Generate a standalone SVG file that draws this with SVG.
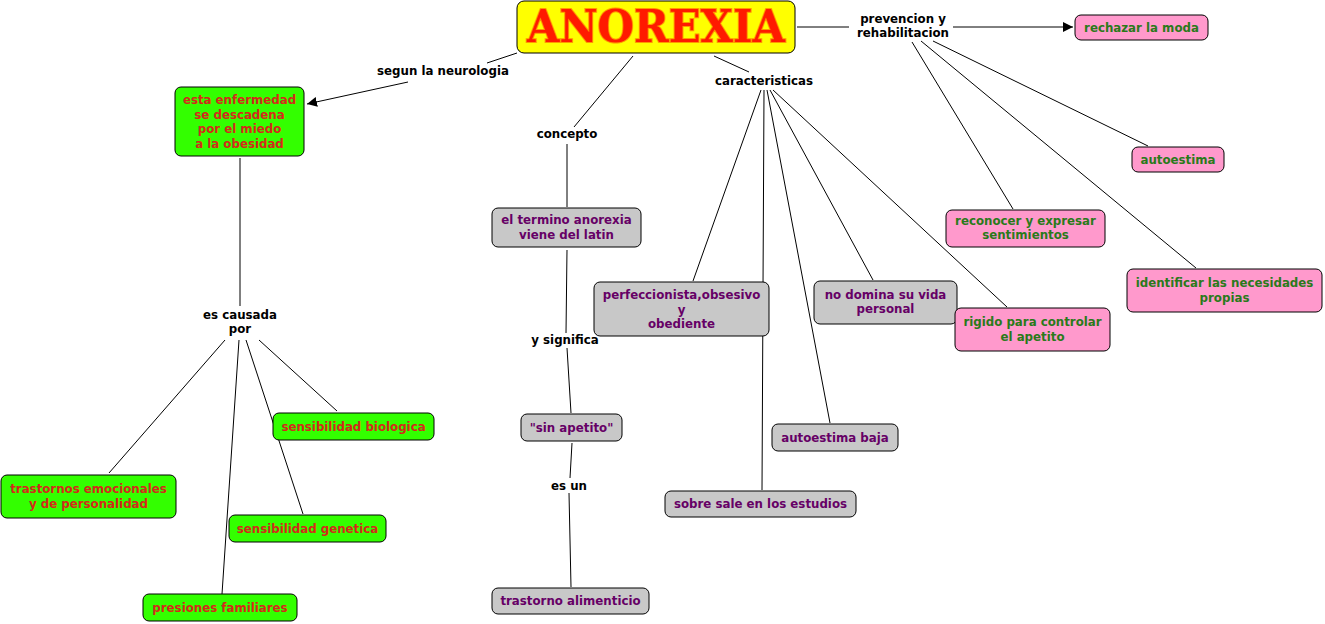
<svg xmlns="http://www.w3.org/2000/svg" width="1325" height="624" viewBox="0 0 1325 624">
<style>
text{font-family:"DejaVu Sans","Verdana",sans-serif;font-weight:bold;font-size:11.8px;text-anchor:middle}
.c line{stroke:#000;stroke-width:1}
.g rect{fill:#33ff00;stroke:#000;stroke-width:1}
.g text{fill:#d42a1a}
.y rect{fill:#c8c8c8;stroke:#000;stroke-width:1}
.y text{fill:#660066}
.p rect{fill:#ff99cc;stroke:#000;stroke-width:1}
.p text{fill:#2a7a1a}
.l text{fill:#000}
</style>
<defs>
<marker id="arr" viewBox="0 0 10 10" refX="10" refY="5" markerWidth="10" markerHeight="10" markerUnits="userSpaceOnUse" orient="auto">
<path d="M0,0 L10,5 L0,10 z" fill="#000"/>
</marker>
</defs>
<rect width="1325" height="624" fill="#fff"/>
<g id="connectors" class="c">
<line x1="517" y1="53" x2="487" y2="63"/>
<line x1="408" y1="82" x2="307" y2="104" marker-end="url(#arr)"/>
<line x1="240" y1="158" x2="240" y2="306"/>
<line x1="225" y1="340" x2="109" y2="473"/>
<line x1="239" y1="340" x2="222" y2="594"/>
<line x1="246" y1="340" x2="303" y2="514"/>
<line x1="259" y1="340" x2="337" y2="411"/>
<line x1="633" y1="56" x2="574" y2="127"/>
<line x1="567" y1="144" x2="567" y2="207"/>
<line x1="567" y1="250" x2="566" y2="333"/>
<line x1="567" y1="348" x2="571" y2="413"/>
<line x1="572" y1="443" x2="570" y2="478"/>
<line x1="569" y1="493" x2="571" y2="587"/>
<line x1="714" y1="56" x2="749" y2="72"/>
<line x1="761" y1="90" x2="693" y2="281"/>
<line x1="764" y1="90" x2="762" y2="490"/>
<line x1="767" y1="90" x2="830" y2="423"/>
<line x1="770" y1="90" x2="873" y2="280"/>
<line x1="773" y1="90" x2="1007" y2="307"/>
<line x1="797" y1="27" x2="849" y2="27"/>
<line x1="953" y1="27" x2="1073" y2="27" marker-end="url(#arr)"/>
<line x1="912" y1="42" x2="1013" y2="209"/>
<line x1="921" y1="41" x2="1196" y2="268"/>
<line x1="933" y1="41" x2="1148" y2="146"/>
</g>
<g id="title">
<rect x="517" y="1" width="278" height="52" rx="7" fill="#ffff00" stroke="#000" stroke-width="1"/>
<text x="656" y="42" style="font-family:'DejaVu Serif',serif;font-size:44px;font-weight:bold" fill="#ff1a00" stroke="#ff9900" stroke-width="2" paint-order="stroke" textLength="258" lengthAdjust="spacingAndGlyphs">ANOREXIA</text>
</g>
<g id="lbl-segun" class="l"><text x="443" y="75">segun la neurologia</text></g>
<g id="lbl-concepto" class="l"><text x="567" y="138">concepto</text></g>
<g id="lbl-caracteristicas" class="l"><text x="764" y="85">caracteristicas</text></g>
<g id="lbl-prevencion" class="l"><text x="903" y="23">prevencion y</text><text x="903" y="37">rehabilitacion</text></g>
<g id="lbl-causada" class="l"><text x="240" y="319">es causada</text><text x="240" y="333">por</text></g>
<g id="lbl-significa" class="l"><text x="565" y="344">y significa</text></g>
<g id="lbl-esun" class="l"><text x="569" y="490">es un</text></g>

<g id="n-enfermedad" class="g"><rect x="175" y="87" width="129" height="69" rx="6"/>
<text x="239.5" y="104">esta enfermedad</text><text x="239.5" y="118.5">se descadena</text><text x="239.5" y="133">por el miedo</text><text x="239.5" y="147.5">a la obesidad</text></g>
<g id="n-biologica" class="g"><rect x="273" y="413" width="161" height="27" rx="6"/><text x="353.5" y="430.5">sensibilidad biologica</text></g>
<g id="n-trastornos" class="g"><rect x="1" y="475" width="175" height="43" rx="6"/><text x="88.5" y="493">trastornos emocionales</text><text x="88.5" y="507.5">y de personalidad</text></g>
<g id="n-genetica" class="g"><rect x="229" y="515" width="157" height="27" rx="6"/><text x="307.5" y="532.5">sensibilidad genetica</text></g>
<g id="n-presiones" class="g"><rect x="143" y="594" width="154" height="27" rx="6"/><text x="220" y="611.5">presiones familiares</text></g>

<g id="n-termino" class="y"><rect x="492" y="208" width="149" height="39" rx="6"/><text x="566.5" y="224">el termino anorexia</text><text x="566.5" y="239">viene del latin</text></g>
<g id="n-perfeccionista" class="y"><rect x="594" y="282" width="175" height="54" rx="6"/><text x="681.5" y="299">perfeccionista,obsesivo</text><text x="681.5" y="313.5">y</text><text x="681.5" y="328">obediente</text></g>
<g id="n-nodomina" class="y"><rect x="814" y="281" width="143" height="43" rx="6"/><text x="885.5" y="298.5">no domina su vida</text><text x="885.5" y="313">personal</text></g>
<g id="n-sinapetito" class="y"><rect x="521" y="414" width="101" height="27" rx="6"/><text x="571.5" y="431.5">"sin apetito"</text></g>
<g id="n-autoestimabaja" class="y"><rect x="772" y="424" width="126" height="27" rx="6"/><text x="835" y="441.5">autoestima baja</text></g>
<g id="n-sobresale" class="y"><rect x="665" y="491" width="191" height="26" rx="6"/><text x="760.5" y="508">sobre sale en los estudios</text></g>
<g id="n-alimenticio" class="y"><rect x="492" y="588" width="157" height="26" rx="6"/><text x="570.5" y="605">trastorno alimenticio</text></g>

<g id="n-rechazar" class="p"><rect x="1075" y="15" width="133" height="25" rx="6"/><text x="1141.5" y="31.5">rechazar la moda</text></g>
<g id="n-autoestima" class="p"><rect x="1132" y="147" width="92" height="25" rx="6"/><text x="1178" y="163.5">autoestima</text></g>
<g id="n-reconocer" class="p"><rect x="946" y="210" width="159" height="37" rx="6"/><text x="1025.5" y="224.5">reconocer y expresar</text><text x="1025.5" y="239">sentimientos</text></g>
<g id="n-identificar" class="p"><rect x="1127" y="269" width="195" height="43" rx="6"/><text x="1224.5" y="287">identificar las necesidades</text><text x="1224.5" y="301.5">propias</text></g>
<g id="n-rigido" class="p"><rect x="955" y="308" width="155" height="43" rx="6"/><text x="1032.5" y="326">rigido para controlar</text><text x="1032.5" y="340.5">el apetito</text></g>
</svg>
